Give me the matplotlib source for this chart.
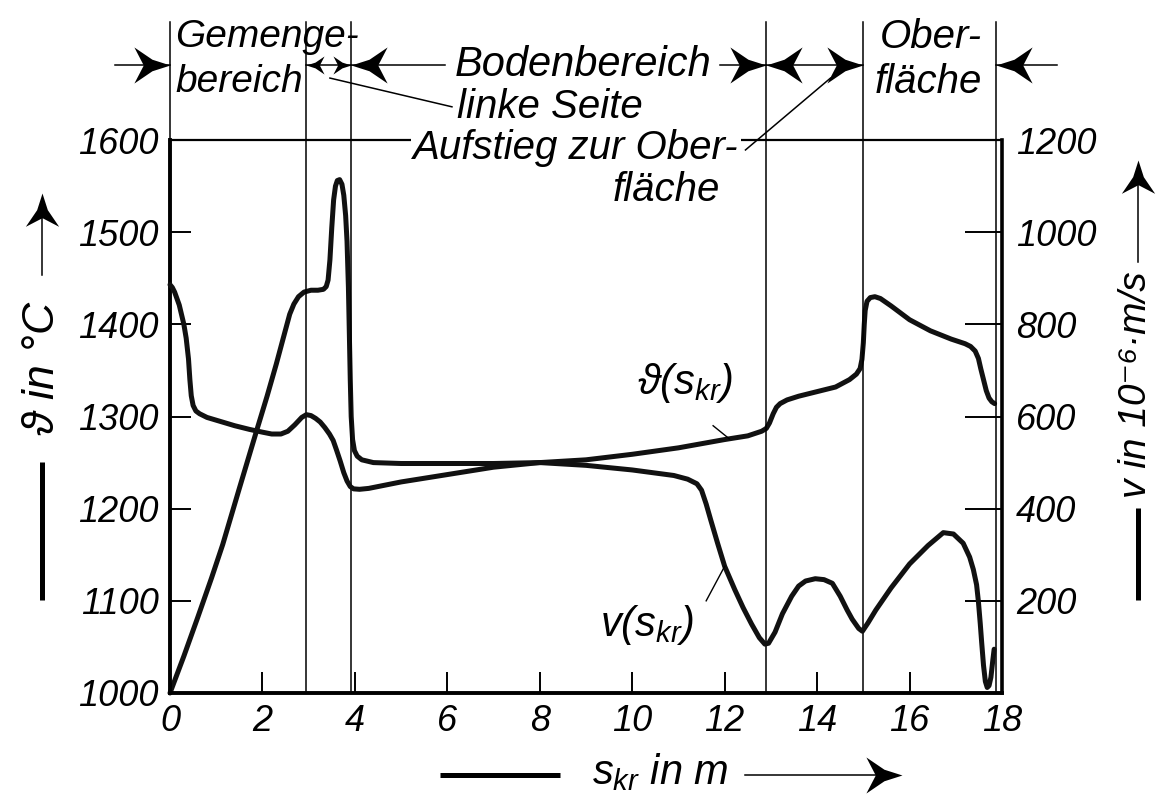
import numpy as np
import matplotlib
matplotlib.use('Agg')
import matplotlib.pyplot as plt
from matplotlib.path import Path
from matplotlib.transforms import blended_transform_factory

plt.rcParams['font.family'] = ['Liberation Sans', 'DejaVu Sans']
plt.rcParams['font.style'] = 'italic'
plt.rcParams['mathtext.fontset'] = 'custom'
plt.rcParams['mathtext.rm'] = 'Liberation Sans:italic'
plt.rcParams['mathtext.it'] = 'Liberation Sans:italic'
plt.rcParams['mathtext.fallback'] = 'cm'

# temperature along the flow path s_kr (m), in degC
theta_s = [0, 0.3, 0.6, 0.9, 1.14, 1.5, 1.87, 2.1, 2.3, 2.45, 2.59, 2.68, 2.78,
           2.9, 3.05, 3.2, 3.32, 3.38, 3.42, 3.46, 3.5, 3.54, 3.58, 3.62, 3.67,
           3.72, 3.76, 3.8, 3.83, 3.86, 3.88, 3.9, 3.92, 3.95, 3.99, 4.05, 4.15,
           4.4, 5.0, 6.0, 7.0, 8.0, 9.0, 10.0, 11.0, 12.0, 12.5, 12.8, 12.9,
           12.97, 13.05, 13.12, 13.2, 13.35, 13.6, 14.0, 14.4, 14.7, 14.85, 14.93,
           14.97, 15.0, 15.02, 15.04, 15.08, 15.15, 15.25, 15.37, 15.6, 16.0, 16.45,
           16.9, 17.2, 17.32, 17.42, 17.49, 17.54, 17.6, 17.66, 17.72, 17.78, 17.84]
theta_c = [1000, 1040, 1082, 1125, 1161, 1222, 1284, 1322, 1357, 1385, 1411, 1422, 1430,
           1435, 1437, 1437, 1438, 1441, 1448, 1470, 1505, 1535, 1550, 1556, 1557,
           1552, 1540, 1518, 1490, 1440, 1390, 1340, 1300, 1275, 1263, 1257, 1253,
           1250, 1249, 1249, 1249, 1250, 1253, 1259, 1266, 1275, 1279, 1284, 1287,
           1293, 1303, 1310, 1314, 1318, 1322, 1327, 1332, 1340, 1346, 1352,
           1362, 1380, 1400, 1415, 1425, 1429, 1430, 1428, 1420, 1405, 1393,
           1384, 1379, 1376, 1371, 1363, 1352, 1340, 1328, 1320, 1316, 1314]

# flow velocity along s_kr, in 10^-6 m/s
v_s = [0, 0.05, 0.1, 0.2, 0.3, 0.35, 0.4, 0.43, 0.46, 0.5, 0.56, 0.64, 0.8, 1.0,
       1.4, 1.72, 2.0, 2.2, 2.4, 2.55, 2.7, 2.85, 2.95, 3.05, 3.15, 3.25, 3.35,
       3.45, 3.53, 3.6, 3.68, 3.76, 3.83, 3.9, 3.97, 4.1, 4.3, 5.0, 6.0, 7.0,
       8.0, 9.0, 10.0, 10.9, 11.2, 11.4, 11.5, 11.6, 11.7, 11.85, 12.0, 12.22,
       12.4, 12.58, 12.75, 12.87, 12.95, 13.09, 13.25, 13.45, 13.6, 13.75, 13.96,
       14.15, 14.33, 14.5, 14.65, 14.76, 14.9, 14.98, 15.1, 15.27, 15.6, 16.0,
       16.4, 16.73, 16.95, 17.16, 17.3, 17.38, 17.45, 17.49, 17.53, 17.56, 17.6,
       17.64, 17.68, 17.72, 17.76, 17.8, 17.83]
v_um = [886, 880, 870, 842, 800, 770, 725, 680, 645, 624, 612, 606, 598, 592,
        580, 572, 566, 562, 562, 568, 582, 598, 604, 602, 596, 588, 576,
        562, 548, 528, 504, 478, 460, 448, 443, 442, 444, 458, 474, 490,
        500, 494, 484, 472, 464, 454, 440, 410, 375, 324, 275, 224,
        185, 150, 120, 106, 108, 132, 172, 210, 232, 243, 248,
        246, 238, 210, 180, 160, 140, 134, 152, 180, 228, 280,
        320, 348, 345, 325, 295, 268, 235, 198, 150, 110, 60,
        25, 12, 16, 34, 70, 95]

zone_edges = [2.95, 3.92, 12.9, 15.0, 17.86]
theta_ticks = [1000, 1100, 1200, 1300, 1400, 1500, 1600]
v_ticks = [200, 400, 600, 800, 1000, 1200]
s_ticks = [0, 2, 4, 6, 8, 10, 12, 14, 16, 18]


def head(angle):
    pts = np.array([(0, 0), (-0.5, 0.16), (-1, 0.5), (-0.74, 0),
                    (-1, -0.5), (-0.5, -0.16), (0, 0)])
    a = np.deg2rad(angle)
    rot = np.array([[np.cos(a), -np.sin(a)], [np.sin(a), np.cos(a)]])
    return Path(pts @ rot.T, closed=True)


def arrow(axis, x, y, angle, size, transform):
    axis.plot([x], [y], marker=head(angle), ms=size, color='k', mew=0,
              transform=transform, clip_on=False, linestyle='none', zorder=4)


fig = plt.figure(figsize=(11.56, 8.10), dpi=100)
ax = fig.add_axes([170 / 1156, 1 - 693 / 810, 832 / 1156, 553 / 810])
ax2 = ax.twinx()

ax.plot(theta_s, theta_c, color='#111111', lw=3.6, solid_joinstyle='round',
        solid_capstyle='round', clip_on=False)
ax2.plot(v_s, v_um, color='#111111', lw=3.6, solid_joinstyle='round',
         solid_capstyle='round', clip_on=False)

ax.set_xlim(0, 18)
ax.set_ylim(1000, 1600)
ax2.set_ylim(0, 1200)
ax.set_xticks(s_ticks)
ax.set_yticks(theta_ticks)
ax2.set_yticks(v_ticks)

ax.tick_params(axis='both', direction='in', length=15, width=1.4, labelsize=26, pad=8)
ax2.tick_params(axis='y', direction='in', length=27, width=1.4, labelsize=26, pad=10)

for sp in ['left', 'bottom']:
    ax.spines[sp].set_linewidth(2.8)
ax.spines['top'].set_linewidth(1.6)
ax.spines['right'].set_visible(False)
for sp in ['left', 'bottom', 'top']:
    ax2.spines[sp].set_visible(False)
ax2.spines['right'].set_linewidth(2.6)

tb = blended_transform_factory(ax.transData, ax.transAxes)
top = 1.2134
row = 1.1356
thin = dict(color='k', lw=1.1, transform=tb, clip_on=False)

# zone boundaries, carried up into the header
ax.plot([0, 0], [1, top], **thin)
for e in zone_edges:
    ax.plot([e, e], [0, top], **thin)

# header arrows
big, small = 52, 26
ax.plot([-1.19, 0], [row, row], **thin)
arrow(ax, 0, row, 0, big, tb)
ax.plot([zone_edges[0], zone_edges[1]], [row, row], **thin)
arrow(ax, zone_edges[0], row, 180, small, tb)
arrow(ax, zone_edges[1], row, 0, small, tb)
ax.plot([zone_edges[1], 5.95], [row, row], **thin)
arrow(ax, zone_edges[1], row, 180, big, tb)
ax.plot([11.9, zone_edges[2]], [row, row], **thin)
arrow(ax, zone_edges[2], row, 0, big, tb)
ax.plot([zone_edges[2], zone_edges[3]], [row, row], **thin)
arrow(ax, zone_edges[2], row, 180, big, tb)
arrow(ax, zone_edges[3], row, 0, big, tb)
ax.plot([zone_edges[4], 19.2], [row, row], **thin)
arrow(ax, zone_edges[4], row, 180, big, tb)

fs = 29
ax.text(0.12, 1.186, 'Gemenge-', fontsize=28, ha='left', va='center', transform=tb)
ax.text(0.12, 1.105, 'bereich', fontsize=28, ha='left', va='center', transform=tb)
ax.text(8.93, row, 'Bodenbereich', fontsize=30, ha='center', va='center', transform=tb)
ax.text(6.2, 1.06, 'linke Seite', fontsize=fs, ha='left', va='center', transform=tb)
ax.text(5.26, 0.986, 'Aufstieg zur Ober-', fontsize=fs, ha='left', va='center', transform=tb,
        zorder=5, bbox=dict(boxstyle='square,pad=0.05', fc='white', ec='none'))
ax.text(11.9, 0.91, 'fläche', fontsize=fs, ha='right', va='center', transform=tb)
ax.text(15.35, 1.186, 'Ober-', fontsize=fs, ha='left', va='center', transform=tb)
ax.text(15.25, 1.105, 'fläche', fontsize=fs, ha='left', va='center', transform=tb)

# leader lines for the two transition zones
ax.plot([3.46, 6.1], [1.112, 1.06], **thin)
ax.plot([12.45, 14.29], [0.982, 1.112], **thin)

# curve labels
ax.text(10.1, 1336, r'$\vartheta(s_{kr})$', fontsize=30, ha='left', va='center')
ax.plot([11.75, 12.1], [1290, np.interp(12.1, theta_s, theta_c)], color='k', lw=1.0)
ax2.text(9.3, 148, r'$v(s_{kr})$', fontsize=30, ha='left', va='center')
ax2.plot([11.6, 12.0], [200, np.interp(12.0, v_s, v_um)], color='k', lw=1.0)

# axis captions with arrows, drawn in pixel space
ov = fig.add_axes([0, 0, 1, 1], facecolor='none')
ov.set_xlim(0, 1156)
ov.set_ylim(810, 0)
ov.axis('off')

ov.plot([42, 42], [600, 462], color='k', lw=3.6, solid_capstyle='butt')
ov.text(42, 368, r'$\vartheta$ in °C', fontsize=32, rotation=90, ha='center', va='center')
ov.plot([42, 42], [275, 205], color='k', lw=1.1)
arrow(ov, 42, 193, 90, 48, ov.transData)

ov.plot([1138, 1138], [600, 508], color='k', lw=3.6, solid_capstyle='butt')
ov.text(1136, 385, 'v in 10⁻⁶·m/s', fontsize=28, rotation=90, ha='center', va='center')
ov.plot([1138, 1138], [262, 175], color='k', lw=1.1)
arrow(ov, 1138, 160, 90, 48, ov.transData)

ov.plot([440, 560], [775, 775], color='k', lw=3.6, solid_capstyle='butt')
ov.text(660, 772, r'$s_{kr}$ in m', fontsize=30, ha='center', va='center')
ov.plot([745, 880], [775, 775], color='k', lw=1.1)
arrow(ov, 902, 775, 0, 52, ov.transData)

fig.savefig('out.png', dpi=100, facecolor='white')
